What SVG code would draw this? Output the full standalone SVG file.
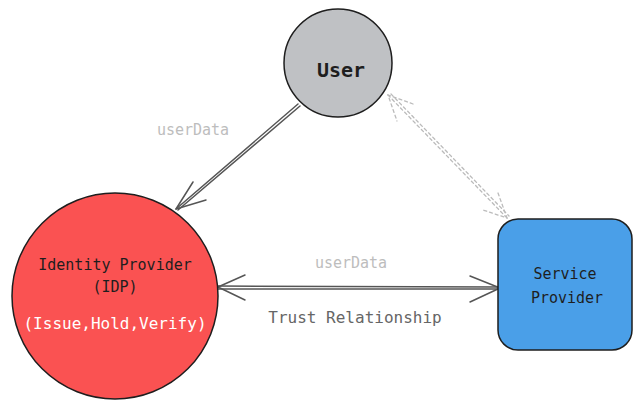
<svg xmlns="http://www.w3.org/2000/svg" width="633" height="400" viewBox="0 0 633 400">
<style>
text{font-family:"DejaVu Sans Mono","Liberation Mono",monospace;text-anchor:middle}
.node{stroke:#1e1e1e;stroke-width:1.5}
.lbl{fill:#1e1e1e;font-size:15px}
.edge{fill:none;stroke:#555;stroke-width:1.5;stroke-linecap:round;stroke-linejoin:round}
.dash{fill:none;stroke:#bbb;stroke-width:1.3;stroke-dasharray:3 3;stroke-linecap:round}
.elbl{font-size:15px;fill:#bdbdbd}
</style>
<rect width="633" height="400" fill="#fff"/>
<g id="connectors">
  <g id="user-idp">
    <path class="edge" d="M298 104 L176 209 M300 106 L178 210"/>
    <path class="edge" d="M193 182 L176 209 L206 200"/>
  </g>
  <g id="idp-sp">
    <path class="edge" d="M218 286 L500 287 M218 289 L500 289"/>
    <path class="edge" d="M245 275 L218 287 L245 300"/>
    <path class="edge" d="M470 276 L500 288 L470 302"/>
  </g>
  <g id="user-sp">
    <path class="dash" d="M388 95 L507 218 M391 94 L509 216"/>
    <path class="dash" d="M413 104 L388 95 L397 121"/>
    <path class="dash" d="M498 193 L507 218 L483 210"/>
  </g>
  <text class="elbl" x="193" y="135">userData</text>
  <text class="elbl" x="351" y="268">userData</text>
  <text x="355" y="323" style="font-size:16px;fill:#666">Trust Relationship</text>
</g>
<g id="user">
  <circle class="node" cx="338" cy="63" r="54" fill="#bfc1c4" stroke="#666"/>
  <text x="341" y="77" style="font-size:20px;font-weight:bold;fill:#1e1e1e">User</text>
</g>
<g id="idp">
  <circle class="node" cx="115" cy="296" r="103" fill="#fa5252"/>
  <text class="lbl" x="115" y="270">Identity Provider</text>
  <text class="lbl" x="115" y="292">(IDP)</text>
  <text x="115" y="329" style="font-size:16px;fill:#fff">(Issue,Hold,Verify)</text>
</g>
<g id="sp">
  <rect class="node" x="498" y="219" width="134" height="131" rx="20" fill="#4a9fe8"/>
  <text class="lbl" x="565" y="279">Service</text>
  <text class="lbl" x="567" y="303">Provider</text>
</g>
</svg>
